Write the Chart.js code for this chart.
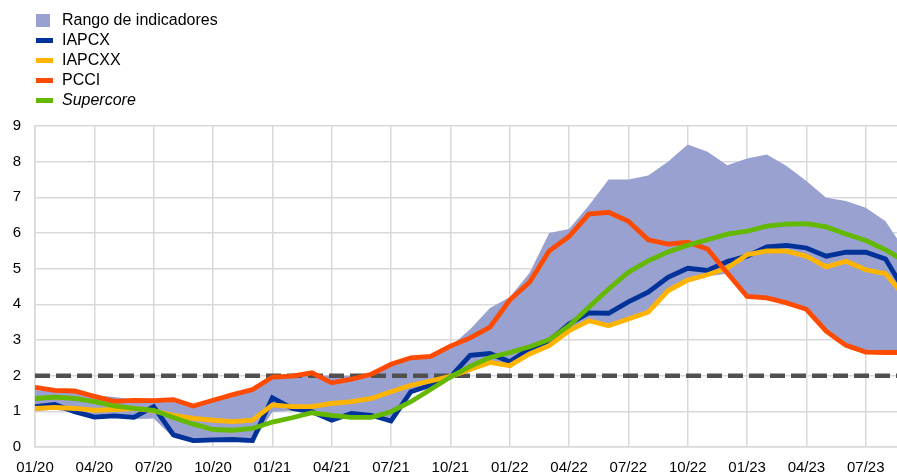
<!DOCTYPE html>
<html>
<head>
<meta charset="utf-8">
<script src="https://cdn.jsdelivr.net/npm/chart.js@4/dist/chart.umd.min.js"></script>
<style>
  body { margin: 0; background: #fff; }
  #wrap { position: relative; width: 897px; height: 473px; }
  #legend { position: absolute; left: 36px; top: 10px; font-family: "Liberation Sans", Arial, sans-serif; font-size: 16px; color: #000; }
  .item { height: 20px; line-height: 20px; position: relative; padding-left: 26px; white-space: nowrap; }
  .sw { position: absolute; left: 0; }
  .box { top: 4px; width: 14px; height: 13px; }
  .ln { top: 8px; width: 17px; height: 5px; }
</style>
</head>
<body>
<div id="wrap">
  <canvas id="myChart" width="897" height="473"></canvas>
  <div id="legend"></div>
</div>
<script>
// ==============Data==============
const months = [
  "01/20", "02/20", "03/20", "04/20", "05/20", "06/20", "07/20", "08/20", "09/20", "10/20", "11/20", "12/20",
  "01/21", "02/21", "03/21", "04/21", "05/21", "06/21", "07/21", "08/21", "09/21", "10/21", "11/21", "12/21",
  "01/22", "02/22", "03/22", "04/22", "05/22", "06/22", "07/22", "08/22", "09/22", "10/22", "11/22", "12/22",
  "01/23", "02/23", "03/23", "04/23", "05/23", "06/23", "07/23", "08/23", "09/23"
];
const tickLabels = ["01/20", "04/20", "07/20", "10/20", "01/21", "04/21", "07/21", "10/21", "01/22", "04/22", "07/22", "10/22", "01/23", "04/23", "07/23"];

const rangeHigh = [
  1.60, 1.55, 1.52, 1.45, 1.40, 1.33, 1.28, 1.30, 1.10, 1.26, 1.42, 1.56,
  1.95, 2.00, 2.02, 2.00, 2.00, 2.05, 2.28, 2.45, 2.50, 2.82, 3.30, 3.90,
  4.20, 4.88, 6.00, 6.11, 6.77, 7.50, 7.50, 7.61, 8.00, 8.48, 8.28, 7.90,
  8.09, 8.20, 7.88, 7.46, 6.99, 6.90, 6.71, 6.33, 5.50
];
const rangeLow = [
  1.00, 1.05, 0.95, 0.80, 0.83, 0.78, 0.80, 0.26, 0.12, 0.14, 0.15, 0.12,
  0.98, 1.02, 0.95, 0.70, 0.88, 0.84, 0.68, 1.50, 1.70, 1.93, 2.15, 2.33,
  2.24, 2.58, 2.80, 3.22, 3.50, 3.36, 3.55, 3.74, 4.34, 4.64, 4.79, 4.86,
  4.20, 4.15, 4.00, 3.82, 3.22, 2.82, 2.63, 2.62, 2.62
];
const iapcx = [
  1.13, 1.19, 0.99, 0.84, 0.87, 0.83, 1.13, 0.34, 0.18, 0.20, 0.21, 0.18,
  1.38, 1.08, 0.99, 0.75, 0.94, 0.89, 0.73, 1.55, 1.73, 1.96, 2.57, 2.62,
  2.39, 2.75, 2.98, 3.45, 3.76, 3.75, 4.07, 4.34, 4.76, 5.01, 4.95, 5.20,
  5.35, 5.61, 5.65, 5.58, 5.35, 5.46, 5.46, 5.27, 4.35
];
const iapcxx = [
  1.08, 1.11, 1.08, 1.03, 1.05, 1.08, 1.01, 0.89, 0.80, 0.75, 0.71, 0.75,
  1.18, 1.13, 1.13, 1.22, 1.27, 1.36, 1.55, 1.73, 1.85, 1.98, 2.17, 2.37,
  2.28, 2.61, 2.84, 3.26, 3.54, 3.40, 3.59, 3.78, 4.38, 4.68, 4.83, 5.02,
  5.39, 5.50, 5.49, 5.35, 5.05, 5.21, 4.97, 4.86, 4.20
];
const pcci = [
  1.67, 1.59, 1.57, 1.42, 1.28, 1.31, 1.30, 1.33, 1.15, 1.31, 1.47, 1.61,
  1.96, 1.99, 2.08, 1.80, 1.90, 2.04, 2.32, 2.50, 2.54, 2.83, 3.06, 3.36,
  4.12, 4.62, 5.50, 5.90, 6.53, 6.58, 6.33, 5.81, 5.69, 5.74, 5.55, 4.88,
  4.22, 4.18, 4.04, 3.86, 3.25, 2.85, 2.66, 2.65, 2.65
];
const supercore = [
  1.36, 1.40, 1.36, 1.27, 1.15, 1.08, 1.03, 0.83, 0.64, 0.49, 0.47, 0.52,
  0.70, 0.82, 0.96, 0.89, 0.83, 0.83, 0.99, 1.27, 1.61, 1.96, 2.26, 2.51,
  2.65, 2.81, 3.01, 3.40, 3.92, 4.43, 4.90, 5.22, 5.47, 5.66, 5.81, 5.97,
  6.05, 6.19, 6.25, 6.26, 6.17, 5.97, 5.79, 5.53, 5.20
];
const target = months.map(() => 2);

const colors = {
  range: "#98a1d0",
  iapcx: "#003299",
  iapcxx: "#ffb400",
  pcci: "#ff4b00",
  supercore: "#65b800",
  target: "#505050",
};

function toXY(values) {
  return values.map((v, i) => ({ x: i, y: v }));
}

function lineSet(label, values, color, order) {
  return {
    label: label,
    data: toXY(values),
    borderColor: color,
    borderWidth: 4.8,
    pointRadius: 0,
    tension: 0,
    fill: false,
    order: order,
  };
}

// ==============Legend==============
function make_legend() {
  const items = [
    { text: "Rango de indicadores", color: colors.range, cls: "box" },
    { text: "IAPCX", color: colors.iapcx, cls: "ln" },
    { text: "IAPCXX", color: colors.iapcxx, cls: "ln" },
    { text: "PCCI", color: colors.pcci, cls: "ln" },
    { text: "Supercore", color: colors.supercore, cls: "ln", italic: true },
  ];
  const html = items
    .map(
      (it) =>
        `<div class="item"><span class="sw ${it.cls}" style="background:${it.color}"></span>` +
        `<span style="font-style:${it.italic ? "italic" : "normal"}">${it.text}</span></div>`
    )
    .join("");
  document.getElementById("legend").innerHTML = html;
}

// ==============Chart==============
const ctx = document.getElementById("myChart").getContext("2d");
const xMax = 43.58;

new Chart(ctx, {
  type: "line",
  data: {
    datasets: [
      lineSet("Supercore", supercore, colors.supercore, 1),
      lineSet("PCCI", pcci, colors.pcci, 2),
      lineSet("IAPCXX", iapcxx, colors.iapcxx, 3),
      lineSet("IAPCX", iapcx, colors.iapcx, 4),
      {
        label: "target",
        data: toXY(target),
        borderColor: colors.target,
        borderWidth: 4.5,
        borderDash: [15, 6],
        pointRadius: 0,
        fill: false,
        order: 5,
      },
      {
        label: "Rango de indicadores",
        data: toXY(rangeHigh),
        borderWidth: 0,
        borderColor: "rgba(0,0,0,0)",
        backgroundColor: colors.range,
        pointRadius: 0,
        fill: "+1",
        order: 6,
      },
      {
        label: "low",
        data: toXY(rangeLow),
        borderWidth: 0,
        borderColor: "rgba(0,0,0,0)",
        pointRadius: 0,
        fill: false,
        order: 7,
      },
    ],
  },
  options: {
    responsive: false,
    animation: false,
    layout: { padding: { top: 126, right: 0, bottom: 0, left: 0 } },
    plugins: { legend: { display: false }, tooltip: { enabled: false } },
    scales: {
      x: {
        type: "linear",
        min: 0,
        max: xMax,
        afterBuildTicks: (scale) => {
          scale.ticks = tickLabels.map((t, i) => ({ value: i * 3 }));
        },
        afterFit: (scale) => {
          scale.height = 26;
        },
        ticks: {
          autoSkip: false,
          maxRotation: 0,
          padding: 12,
          color: "#000",
          font: { family: "Liberation Sans", size: 15 },
          callback: (v) => months[v],
        },
        grid: { color: "#d9d9d9", lineWidth: 1.5, drawTicks: false },
        border: { color: "#d9d9d9", width: 1.5 },
      },
      y: {
        min: 0,
        max: 9,
        afterFit: (scale) => {
          scale.width = 35;
        },
        ticks: {
          stepSize: 1,
          padding: 14,
          color: "#000",
          font: { family: "Liberation Sans", size: 15 },
        },
        grid: { color: "#d9d9d9", lineWidth: 1.5, drawTicks: false },
        border: { color: "#d9d9d9", width: 1.5 },
      },
    },
  },
});

make_legend();
</script>
</body>
</html>
